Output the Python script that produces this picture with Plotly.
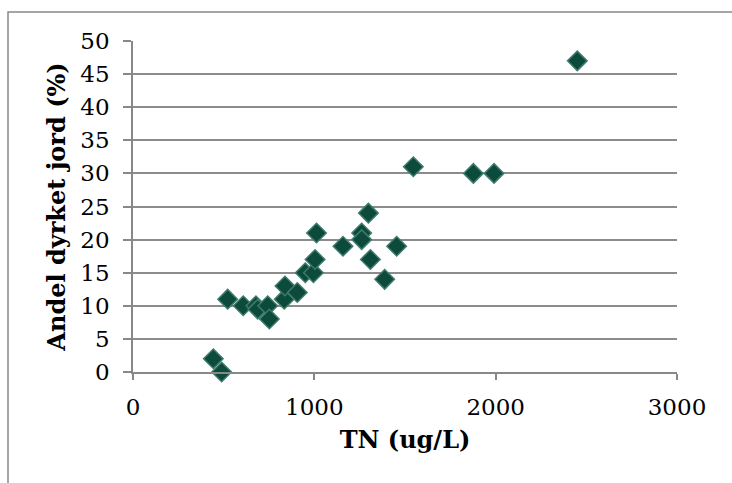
import plotly.graph_objects as go

tn = [443, 489, 522, 608, 678, 688, 743, 752, 834, 838, 906, 950, 995, 1004, 1012,
      1158, 1261, 1261, 1298, 1309, 1388, 1454, 1546, 1877, 1991, 2450]
andel = [2, 0, 11, 10, 10, 9.5, 10, 8, 11, 13, 12, 15, 15, 17, 21,
         19, 21, 20, 24, 17, 14, 19, 31, 30, 30, 47]

x_ticks = [0, 1000, 2000, 3000]
y_ticks = [0, 5, 10, 15, 20, 25, 30, 35, 40, 45, 50]

fig = go.Figure()
fig.add_trace(go.Scatter(
    x=tn, y=andel, mode="markers",
    marker=dict(symbol="diamond", size=15, color="#0c4a3c",
                line=dict(color="#3f7b6c", width=1.5)),
    showlegend=False, cliponaxis=False,
))

font_family = "DejaVu Serif"
fig.update_layout(
    width=732, height=483,
    margin=dict(l=133, r=55, t=41, b=111),
    paper_bgcolor="white", plot_bgcolor="white",
    font=dict(family=font_family, size=23, color="black"),
    xaxis=dict(
        range=[0, 3000], tickvals=x_ticks, showgrid=False, zeroline=False,
        showline=True, linecolor="#888888", linewidth=1.5,
        ticks="outside", ticklen=6, tickcolor="#888888", tickwidth=1.5,
        ticklabelstandoff=8,
        title=dict(text="<b>TN (ug/L)</b>", font=dict(size=24), standoff=12),
    ),
    yaxis=dict(
        range=[0, 50], tickvals=y_ticks, showgrid=True, gridcolor="#8c8c8c",
        gridwidth=1.5, zeroline=False,
        showline=True, linecolor="#888888", linewidth=1.5,
        ticks="outside", ticklen=8, tickcolor="#888888", tickwidth=1.5,
        ticklabelstandoff=9,
        title=dict(text="<b>Andel dyrket jord (%)</b>", font=dict(size=24), standoff=8),
    ),
    shapes=[dict(type="rect", xref="paper", yref="paper",
                 x0=(8 - 133) / 544, x1=1.3, y0=-0.6, y1=(372 - 12) / 331,
                 line=dict(color="#888888", width=1.5), fillcolor="rgba(0,0,0,0)",
                 layer="below")],
)

fig.write_html("out.html")
